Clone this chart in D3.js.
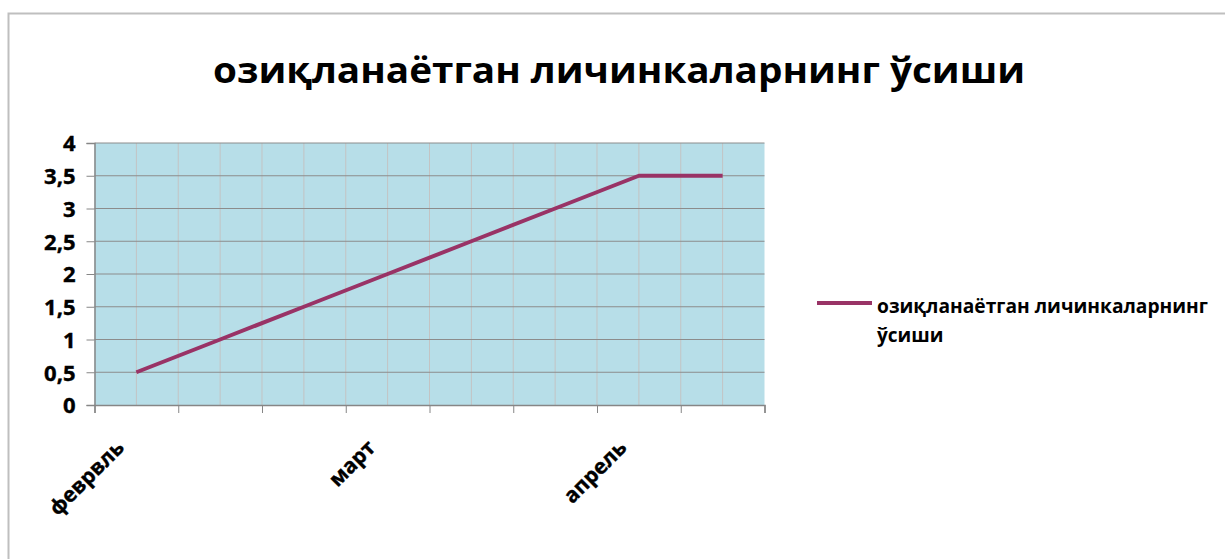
<!DOCTYPE html>
<html><head><meta charset="utf-8">
<script src="https://cdn.jsdelivr.net/npm/d3@7"></script>
<style>
html,body{margin:0;padding:0;background:#fff;}
svg{display:block;}
text{font-family:"Open Sans","DejaVu Sans",sans-serif;font-weight:bold;fill:#000;}
</style></head>
<body>
<svg id="c" width="1225" height="559"></svg>
<script>
const title = "озиқланаётган личинкаларнинг ўсиши";
const seriesName = ["озиқланаётган личинкаларнинг", "ўсиши"];
const categories = ["феврвль", "", "", "март", "", "", "апрель", ""];
const values = [0.5, 1, 1.5, 2, 2.5, 3, 3.5, 3.5];
const yTicks = [0, 0.5, 1, 1.5, 2, 2.5, 3, 3.5, 4];

const svg = d3.select("#c");
const plot = {left: 94.5, right: 764.5, top: 143, bottom: 405};
const lineColor = "#993366";

// chart border
svg.append("rect").attr("x", 8.5).attr("y", 13.5).attr("width", 1240).attr("height", 600)
  .attr("fill", "none").attr("stroke", "#bfbfbf").attr("stroke-width", 2);

// title
svg.append("text").attr("x", 619).attr("y", 83).attr("text-anchor", "middle")
  .attr("font-size", 36).attr("textLength", 812).attr("lengthAdjust", "spacingAndGlyphs")
  .text(title);

const x = d3.scaleLinear().domain([0, categories.length]).range([plot.left, plot.right]);
const y = d3.scaleLinear().domain([0, 4]).range([plot.bottom, plot.top]);

// plot area
svg.append("rect").attr("x", plot.left).attr("y", plot.top)
  .attr("width", plot.right - plot.left).attr("height", plot.bottom - plot.top)
  .attr("fill", "#b7dee8");

// vertical gridlines (category boundaries and centers)
const vg = d3.range(1, categories.length * 2).map(k => k / 2);
svg.append("g").selectAll("line").data(vg).join("line")
  .attr("x1", d => x(d)).attr("x2", d => x(d))
  .attr("y1", plot.top).attr("y2", plot.bottom)
  .attr("stroke", "#c3c3c3").attr("stroke-width", 1);

// horizontal gridlines
svg.append("g").selectAll("line").data(yTicks.filter(v => v > 0)).join("line")
  .attr("x1", plot.left).attr("x2", plot.right)
  .attr("y1", d => y(d)).attr("y2", d => y(d))
  .attr("stroke", "#8c8c8c").attr("stroke-width", 1);

// y axis
const yAxis = svg.append("g").attr("transform", `translate(${plot.left},0)`)
  .call(d3.axisLeft(y).tickValues(yTicks).tickSize(8).tickPadding(11)
    .tickFormat(d => String(d).replace(".", ",")));
yAxis.select(".domain").attr("stroke", "#868686").attr("stroke-width", 1.5);
yAxis.selectAll(".tick line").attr("stroke", "#868686");
yAxis.selectAll("text").attr("font-size", 22).attr("font-family", null).attr("font-weight", null)
  .attr("fill", "#000").attr("dy", "0.36em").attr("stroke", "#000").attr("stroke-width", 0.4);

// x axis
const xAxis = svg.append("g").attr("transform", `translate(0,${plot.bottom})`)
  .call(d3.axisBottom(x).tickValues(d3.range(0, categories.length + 1)).tickSize(8).tickFormat(""));
xAxis.select(".domain").attr("stroke", "#868686").attr("stroke-width", 1.5);
xAxis.selectAll(".tick line").attr("stroke", "#868686");

// x labels (rotated)
svg.append("g").selectAll("text").data(categories.map((c, i) => ({c, i})).filter(d => d.c))
  .join("text")
  .attr("transform", d => `translate(${x(d.i + 0.5) - 11},${plot.bottom + 44}) rotate(-45)`)
  .attr("text-anchor", "end").attr("font-size", 21)
  .attr("stroke", "#000").attr("stroke-width", 0.4)
  .text(d => d.c);

// line
const line = d3.line().x((d, i) => x(i + 0.5)).y(d => y(d));
svg.append("path").datum(values).attr("d", line)
  .attr("fill", "none").attr("stroke", lineColor).attr("stroke-width", 4)
  .attr("stroke-linejoin", "round");

// legend
svg.append("line").attr("x1", 817).attr("x2", 872).attr("y1", 303).attr("y2", 303)
  .attr("stroke", lineColor).attr("stroke-width", 4);
svg.append("text").attr("x", 877).attr("y", 313).attr("font-size", 19)
  .attr("textLength", 331).attr("lengthAdjust", "spacingAndGlyphs").text(seriesName[0]);
svg.append("text").attr("x", 877).attr("y", 342).attr("font-size", 19).text(seriesName[1]);
</script>
</body></html>
